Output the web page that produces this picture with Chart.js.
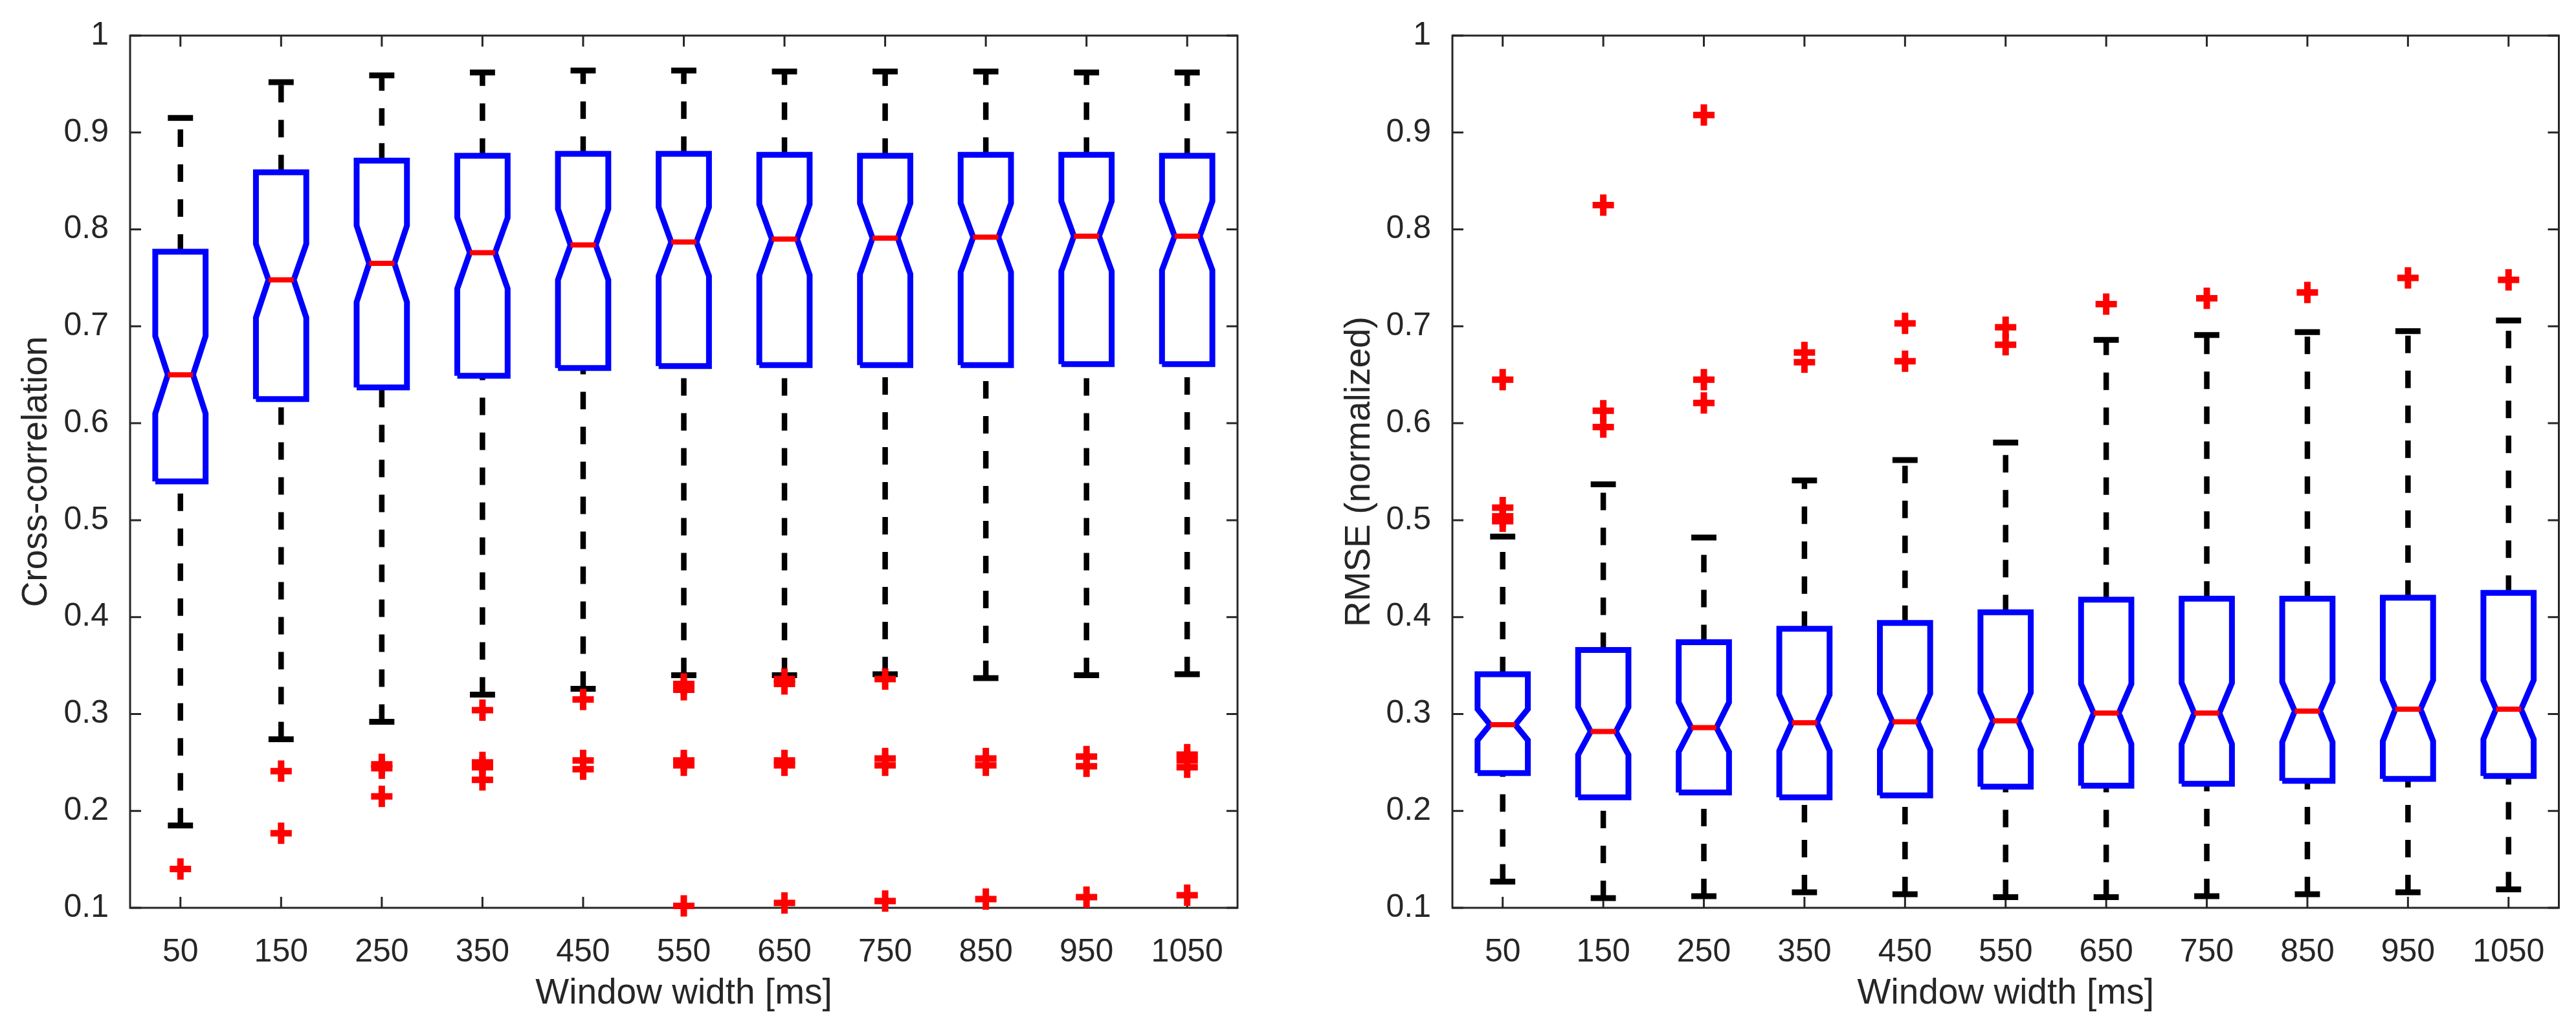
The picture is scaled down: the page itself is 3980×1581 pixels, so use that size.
<!DOCTYPE html>
<html>
<head>
<meta charset="utf-8">
<title>Cross-correlation and RMSE vs window width</title>
<script src="https://cdn.jsdelivr.net/npm/chart.js@4.4.1/dist/chart.umd.min.js"></script>
<style>
    html, body { margin: 0; padding: 0; background: #ffffff; }
    #page { position: relative; width: 3980px; height: 1581px; background: #ffffff; }
    .panel { position: absolute; top: 0; width: 1990px; height: 1581px; }
    #panel-left { left: 0; }
    #panel-right { left: 1990px; }
</style>
</head>
<body>
<div id="page">
    <div class="panel" id="panel-left"><canvas id="ccChart" width="1990" height="1581"></canvas></div>
    <div class="panel" id="panel-right"><canvas id="rmseChart" width="1990" height="1581"></canvas></div>
</div>
<script>
// --- Data ---

const categories = [50, 150, 250, 350, 450, 550, 650, 750, 850, 950, 1050];
const yTicks = [0.1, 0.2, 0.3, 0.4, 0.5, 0.6, 0.7, 0.8, 0.9, 1];

// left panel: cross-correlation
const ccHi       = [0.915, 0.952, 0.959, 0.962, 0.964, 0.964, 0.963, 0.963, 0.963, 0.962, 0.962];
const ccQ3       = [0.777, 0.859, 0.871, 0.876, 0.878, 0.878, 0.877, 0.876, 0.877, 0.877, 0.876];
const ccNotchHi  = [0.690, 0.785, 0.804, 0.812, 0.821, 0.823, 0.826, 0.827, 0.827, 0.829, 0.829];
const ccMedian   = [0.650, 0.748, 0.765, 0.776, 0.784, 0.787, 0.790, 0.791, 0.792, 0.793, 0.793];
const ccNotchLo  = [0.610, 0.709, 0.725, 0.739, 0.748, 0.752, 0.753, 0.754, 0.756, 0.757, 0.758];
const ccQ1       = [0.540, 0.625, 0.637, 0.649, 0.657, 0.659, 0.660, 0.660, 0.660, 0.661, 0.661];
const ccLo       = [0.185, 0.274, 0.292, 0.320, 0.326, 0.340, 0.340, 0.341, 0.337, 0.340, 0.341];
const ccOutliers = [
    [0.140],
    [0.241, 0.177],
    [0.248, 0.244, 0.215],
    [0.304, 0.250, 0.245, 0.232],
    [0.315, 0.252, 0.243],
    [0.331, 0.325, 0.252, 0.247, 0.102],
    [0.336, 0.331, 0.252, 0.247, 0.105],
    [0.336, 0.254, 0.247, 0.107],
    [0.254, 0.247, 0.109],
    [0.256, 0.246, 0.111],
    [0.258, 0.252, 0.245, 0.113]
];

// right panel: normalized RMSE
const rmHi       = [0.483, 0.537, 0.482, 0.541, 0.562, 0.580, 0.686, 0.691, 0.694, 0.695, 0.706];
const rmQ3       = [0.341, 0.366, 0.374, 0.388, 0.394, 0.405, 0.418, 0.419, 0.419, 0.420, 0.425];
const rmNotchHi  = [0.305, 0.307, 0.312, 0.320, 0.321, 0.322, 0.331, 0.332, 0.333, 0.335, 0.335];
const rmMedian   = [0.289, 0.282, 0.286, 0.291, 0.292, 0.293, 0.301, 0.301, 0.303, 0.305, 0.305];
const rmNotchLo  = [0.273, 0.258, 0.261, 0.262, 0.263, 0.263, 0.269, 0.269, 0.271, 0.272, 0.274];
const rmQ1       = [0.239, 0.214, 0.219, 0.214, 0.216, 0.225, 0.226, 0.228, 0.231, 0.233, 0.236];
const rmLo       = [0.127, 0.110, 0.112, 0.116, 0.114, 0.111, 0.111, 0.112, 0.114, 0.116, 0.119];
const rmOutliers = [
    [0.645, 0.513, 0.504, 0.499],
    [0.825, 0.613, 0.596],
    [0.918, 0.645, 0.621],
    [0.673, 0.663],
    [0.703, 0.664],
    [0.699, 0.681],
    [0.723],
    [0.729],
    [0.735],
    [0.750],
    [0.748]
];

// --- Style ---

const AXIS_COLOR = '#262626';
const FONT_FAMILY = '"Liberation Sans", Arial, Helvetica, sans-serif';
const BOX_HALF = 0.25;     // box half width, category units
const NOTCH_HALF = 0.125;  // notch / median / cap half width
const TICK_LEN = 17;

Chart.defaults.font.family = FONT_FAMILY;
Chart.defaults.color = AXIS_COLOR;

// frame round the axes with inward ticks on all four sides (matlab "box on")
const framePlugin = {
    id: 'frame',
    beforeDatasetsDraw(chart) {
        const { ctx, chartArea: a, scales: { x, y } } = chart;
        ctx.save();
        ctx.strokeStyle = AXIS_COLOR;
        ctx.lineWidth = 3;
        ctx.lineCap = 'butt';
        ctx.strokeRect(a.left, a.top, a.right - a.left, a.bottom - a.top);
        ctx.beginPath();
        x.ticks.forEach(t => {
            const px = x.getPixelForValue(t.value);
            ctx.moveTo(px, a.bottom); ctx.lineTo(px, a.bottom - TICK_LEN);
            ctx.moveTo(px, a.top); ctx.lineTo(px, a.top + TICK_LEN);
        });
        y.ticks.forEach(t => {
            const py = y.getPixelForValue(t.value);
            ctx.moveTo(a.left, py); ctx.lineTo(a.left + TICK_LEN, py);
            ctx.moveTo(a.right, py); ctx.lineTo(a.right - TICK_LEN, py);
        });
        ctx.stroke();
        ctx.restore();
    }
};

// --- Building the box plot marks from the arrays ---

function boxOutline(q1, nLo, med, nHi, q3) {
    const pts = [];
    q1.forEach((_, i) => {
        const c = i + 1;
        pts.push(
            { x: c - BOX_HALF, y: q1[i] },
            { x: c - BOX_HALF, y: nLo[i] },
            { x: c - NOTCH_HALF, y: med[i] },
            { x: c - BOX_HALF, y: nHi[i] },
            { x: c - BOX_HALF, y: q3[i] },
            { x: c + BOX_HALF, y: q3[i] },
            { x: c + BOX_HALF, y: nHi[i] },
            { x: c + NOTCH_HALF, y: med[i] },
            { x: c + BOX_HALF, y: nLo[i] },
            { x: c + BOX_HALF, y: q1[i] },
            { x: c - BOX_HALF, y: q1[i] },
            { x: c, y: null }
        );
    });
    return pts;
}

function whiskers(lo, q1, q3, hi) {
    const pts = [];
    lo.forEach((_, i) => {
        const c = i + 1;
        // both whiskers run upward, like the original
        pts.push({ x: c, y: lo[i] }, { x: c, y: q1[i] }, { x: c, y: null });
        pts.push({ x: c, y: q3[i] }, { x: c, y: hi[i] }, { x: c, y: null });
    });
    return pts;
}

function hLines(values) {
    const pts = [];
    values.forEach((v, i) => {
        const c = i + 1;
        pts.push({ x: c - NOTCH_HALF, y: v }, { x: c + NOTCH_HALF, y: v }, { x: c, y: null });
    });
    return pts;
}

function outlierPoints(outliers) {
    const pts = [];
    outliers.forEach((list, i) => list.forEach(v => pts.push({ x: i + 1, y: v })));
    return pts;
}

function lineSet(data, color, width, order, dash) {
    return {
        data: data,
        showLine: true,
        borderColor: color,
        borderWidth: width,
        borderDash: dash || [],
        borderJoinStyle: 'miter',
        borderCapStyle: 'butt',
        pointRadius: 0,
        fill: false,
        tension: 0,
        spanGaps: false,
        order: order
    };
}

function renderBoxChart(canvasId, s) {
    const ctx = document.getElementById(canvasId);
    return new Chart(ctx, {
        type: 'scatter',
        data: {
            datasets: [
                lineSet(whiskers(s.lo, s.q1, s.q3, s.hi), '#000000', 8.5, 5, [27, 27]),
                lineSet(hLines(s.hi).concat(hLines(s.lo)), '#000000', 9, 4),
                lineSet(boxOutline(s.q1, s.nLo, s.med, s.nHi, s.q3), '#0000ff', 9, 3),
                lineSet(hLines(s.med), '#ff0000', 8, 2),
                {
                    data: outlierPoints(s.outliers),
                    showLine: false,
                    pointStyle: 'cross',
                    pointRadius: 16.5,
                    pointBorderWidth: 10,
                    pointBorderColor: '#ff0000',
                    borderColor: '#ff0000',
                    clip: false,
                    order: 1
                }
            ]
        },
        options: {
            responsive: false,
            animation: false,
            events: [],
            layout: { padding: { top: 52, right: s.padRight, left: 0, bottom: 0 } },
            plugins: { legend: { display: false }, tooltip: { enabled: false } },
            scales: {
                x: {
                    type: 'linear',
                    min: 0.5,
                    max: 11.5,
                    grid: { display: false },
                    border: { display: false },
                    afterBuildTicks: (scale) => { scale.ticks = categories.map((c, i) => ({ value: i + 1 })); },
                    afterFit: (scale) => { scale.height = 178; },
                    ticks: {
                        autoSkip: false,
                        maxRotation: 0,
                        padding: 31,
                        color: AXIS_COLOR,
                        font: { size: 50 },
                        callback: (v) => categories[v - 1]
                    },
                    title: {
                        display: true,
                        text: 'Window width [ms]',
                        color: AXIS_COLOR,
                        font: { size: 55, lineHeight: 1.2 },
                        padding: { top: 0, bottom: 12 }
                    }
                },
                y: {
                    type: 'linear',
                    min: 0.1,
                    max: 1,
                    grid: { display: false },
                    border: { display: false },
                    afterBuildTicks: (scale) => { scale.ticks = yTicks.map(v => ({ value: v })); },
                    afterFit: (scale) => { scale.width = s.axisLeft; },
                    ticks: {
                        padding: 25,
                        color: AXIS_COLOR,
                        font: { size: 50 },
                        callback: (v) => String(v)
                    },
                    title: {
                        display: true,
                        text: s.yTitle,
                        color: AXIS_COLOR,
                        font: { size: 55, lineHeight: 1.2 },
                        padding: { top: s.yTitlePad, bottom: 0 }
                    }
                }
            }
        },
        plugins: [framePlugin]
    });
}

// --- Render ---

document.addEventListener('DOMContentLoaded', () => {
    renderBoxChart('ccChart', {
        hi: ccHi, q3: ccQ3, nHi: ccNotchHi, med: ccMedian, nLo: ccNotchLo, q1: ccQ1, lo: ccLo,
        outliers: ccOutliers,
        yTitle: 'Cross-correlation',
        axisLeft: 201,
        padRight: 78,
        yTitlePad: 24
    });

    renderBoxChart('rmseChart', {
        hi: rmHi, q3: rmQ3, nHi: rmNotchHi, med: rmMedian, nLo: rmNotchLo, q1: rmQ1, lo: rmLo,
        outliers: rmOutliers,
        yTitle: 'RMSE (normalized)',
        axisLeft: 254,
        padRight: 25,
        yTitlePad: 78
    });
});
</script>
</body>
</html>
